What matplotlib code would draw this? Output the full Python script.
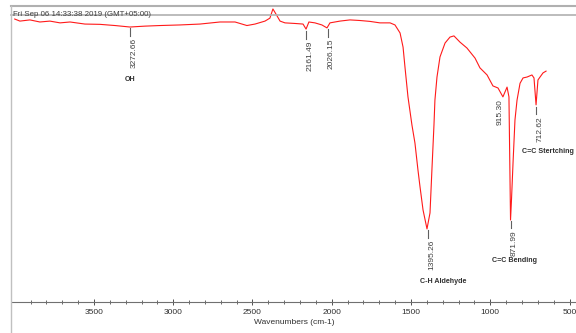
import matplotlib
matplotlib.use("Agg")
import matplotlib.pyplot as plt
from matplotlib.lines import Line2D

plt.rcParams['font.family'] = ['Liberation Sans', 'DejaVu Sans']

# spectrum: wavenumber (cm-1) and transmittance (%)
wavenumber = [4000, 3967, 3904, 3841, 3778, 3714, 3651, 3557, 3462, 3367, 3273,
              3178, 3084, 2957, 2831, 2705, 2610, 2535, 2484, 2421, 2390, 2371,
              2352, 2326, 2295, 2232, 2181, 2162, 2144, 2106, 2062, 2030, 2011,
              1948, 1885, 1822, 1759, 1696, 1632, 1601, 1569, 1550, 1538, 1519,
              1494, 1475, 1456, 1443, 1424, 1399, 1380, 1368, 1355, 1349, 1336,
              1317, 1285, 1254, 1229, 1191, 1147, 1096, 1065, 1020, 983, 951,
              920, 894, 882, 872, 866, 856, 844, 831, 812, 793, 768, 737, 724,
              711, 699, 686, 667, 648]
transmittance = [95.6, 94.9, 95.3, 94.6, 94.9, 94.3, 94.6, 93.9, 93.8, 93.4, 92.9,
                 93.2, 93.4, 93.6, 93.9, 94.6, 94.6, 93.4, 93.9, 94.9, 95.9, 99.0,
                 97.3, 94.9, 94.3, 94.1, 93.9, 92.2, 94.6, 94.3, 93.6, 92.6, 94.3,
                 94.9, 95.3, 95.1, 94.8, 94.3, 94.3, 93.6, 90.9, 86.1, 79.4, 69.3,
                 59.8, 53.7, 44.6, 38.9, 31.1, 24.7, 30.1, 44.6, 59.8, 68.2, 76.0,
                 82.8, 87.5, 89.5, 89.9, 87.8, 85.8, 82.4, 79.1, 76.7, 73.0, 72.3,
                 69.3, 72.6, 69.3, 27.7, 34.5, 47.3, 61.5, 68.2, 73.9, 75.7, 76.0,
                 76.7, 75.7, 66.6, 75.0, 76.0, 77.4, 78.0]

# peak labels: wavenumber, transmittance where the tick starts
peak_wn = [3272.66, 2161.49, 2026.15, 1395.26, 871.99, 712.62]
peak_top = [92.6, 91.5, 92.2, 24.2, 27.5, 66.0]
peak_text = ['3272.66', '2161.49', '2026.15', '1395.26', '871.99', '712.62']

group_text = ['OH', 'C-H Aldehyde', 'C=C Bending', 'C=C Stertching']
group_x = [3272.66, 1295.0, 845.0, 800.0]
group_y = [75.3, 6.8, 13.9, 50.7]
group_ha = ['center', 'center', 'center', 'left']

fig = plt.figure(figsize=(5.76, 3.33), dpi=100)
ax = fig.add_axes([12 / 576, 31 / 333, 564 / 576, 296 / 333])
ax.plot(wavenumber, transmittance, color='#ff1a1a', linewidth=0.8)
ax.set_xlim(4017, 459)
ax.set_ylim(0, 100)

for wn, top, txt in zip(peak_wn, peak_top, peak_text):
    ax.plot([wn, wn], [top, top - 2.6], color='#606060', linewidth=0.8)
    ax.text(wn - 25, top - 3.2, txt, rotation=90, ha='center', va='top',
            fontsize=6.0, color='#404040')
ax.text(915.30 + 25, 68.5, '915.30', rotation=90, ha='center', va='top',
        fontsize=6.0, color='#404040')

for txt, x, y, ha in zip(group_text, group_x, group_y, group_ha):
    ax.text(x, y, txt, ha=ha, va='center', fontsize=5.1, fontweight='bold',
            color='#303030')

ax.set_xticks([3500, 3000, 2500, 2000, 1500, 1000, 500])
ax.set_xticks(range(3900, 400, -100), minor=True)
ax.tick_params(axis='x', which='both', direction='inout', colors='#505050',
               labelsize=6, labelcolor='#303030', pad=3)
ax.tick_params(axis='x', which='major', length=4, width=0.7)
ax.tick_params(axis='x', which='minor', length=2.5, width=0.6)
ax.set_yticks([])
for side in ['top', 'right', 'left']:
    ax.spines[side].set_visible(False)
ax.spines['bottom'].set_color('#707070')
ax.spines['bottom'].set_linewidth(0.8)
ax.set_xlabel('Wavenumbers (cm-1)', fontsize=6, color='#303030', labelpad=2)
ax.patch.set_alpha(0)

# window frame lines
fig.add_artist(Line2D([11 / 576, 1], [1 - 6 / 333, 1 - 6 / 333], color='#b0b0b0', linewidth=1.5))
fig.add_artist(Line2D([11 / 576, 1], [1 - 15 / 333, 1 - 15 / 333], color='#b0b0b0', linewidth=1.2))
fig.add_artist(Line2D([11 / 576, 11 / 576], [0, 1 - 6 / 333], color='#c0c0c0', linewidth=1.0))
fig.text(13 / 576, 1 - 15 / 333, 'Fri Sep 06 14:33:38 2019 (GMT+05:00)', ha='left',
         va='center', fontsize=5.7, color='#404040')

fig.savefig('out.png', dpi=100)
